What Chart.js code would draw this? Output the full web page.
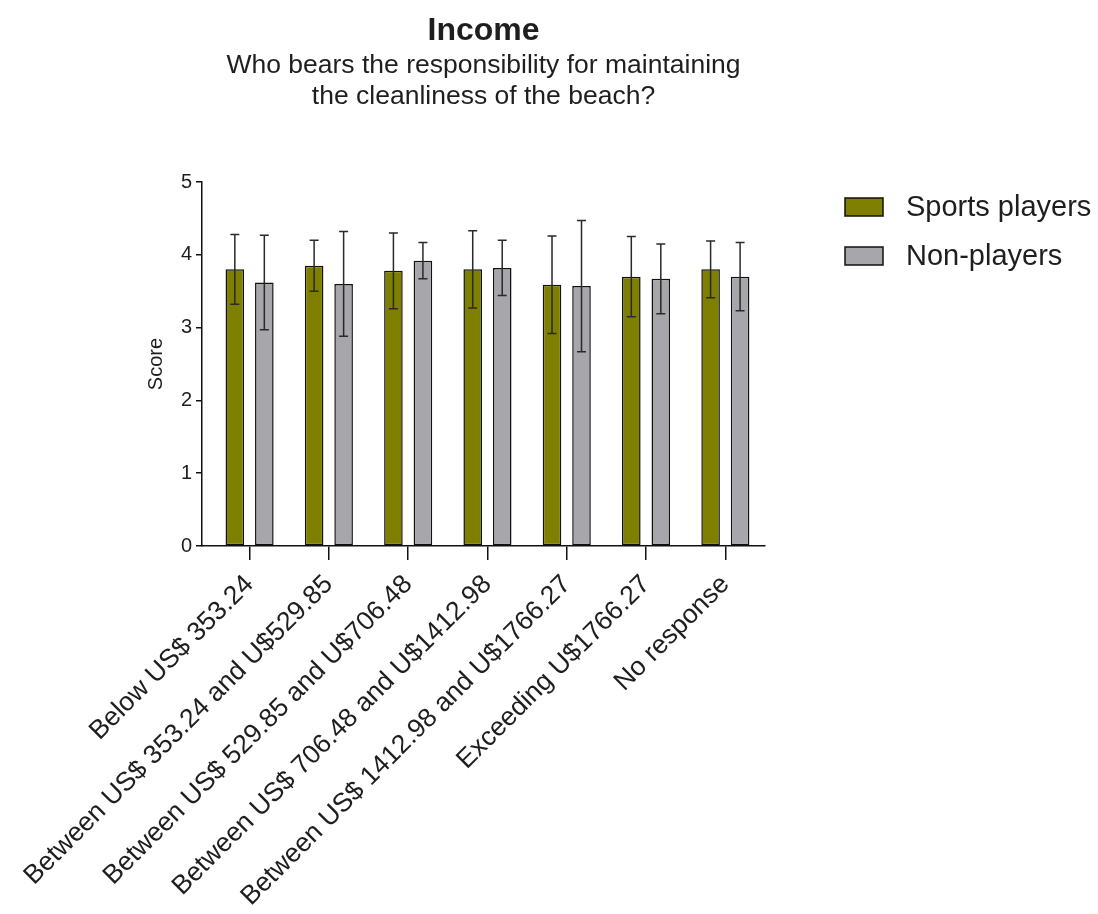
<!DOCTYPE html>
<html><head><meta charset="utf-8">
<script src="https://cdn.jsdelivr.net/npm/chart.js@4.4.1/dist/chart.umd.min.js"></script>
<style>html,body{margin:0;padding:0;background:#fff;}</style>
</head><body>
<canvas id="c" width="1098" height="914"></canvas>
<script>
const categories = [
  'Below US$ 353.24',
  'Between US$ 353.24 and U$529.85',
  'Between US$ 529.85 and U$706.48',
  'Between US$ 706.48 and U$1412.98',
  'Between US$ 1412.98 and U$1766.27',
  'Exceeding U$1766.27',
  'No response'
];
const seriesNames = ['Sports players', 'Non-players'];
const sportsMeans  = [3.80, 3.85, 3.78, 3.80, 3.59, 3.70, 3.80];
const sportsErrors = [0.48, 0.35, 0.52, 0.53, 0.67, 0.55, 0.39];
const nonMeans     = [3.62, 3.60, 3.92, 3.82, 3.57, 3.67, 3.70];
const nonErrors    = [0.65, 0.72, 0.25, 0.38, 0.90, 0.48, 0.47];
const yTickValues  = [0, 1, 2, 3, 4, 5];
const titleText = 'Income';
const subtitleLines = ['Who bears the responsibility for maintaining', 'the cleanliness of the beach?'];
const yTitle = 'Score';

const FONT = '"Liberation Sans", Arial, Helvetica, sans-serif';
const TEXT = '#1e1e1e';

const errorBars = {
  id: 'errorBars',
  afterDatasetsDraw(chart) {
    const ctx = chart.ctx, ys = chart.scales.y;
    chart.data.datasets.forEach((ds, di) => {
      const meta = chart.getDatasetMeta(di);
      meta.data.forEach((bar, i) => {
        const v = ds.data[i].y, e = ds.errors[i];
        const x = bar.x;
        const top = ys.getPixelForValue(v + e), bot = ys.getPixelForValue(v - e);
        ctx.save();
        ctx.strokeStyle = '#2a2a2a';
        ctx.lineWidth = 1.5;
        ctx.beginPath();
        ctx.moveTo(x, top); ctx.lineTo(x, bot);
        ctx.moveTo(x - 4.5, top); ctx.lineTo(x + 4.5, top);
        ctx.moveTo(x - 4.5, bot); ctx.lineTo(x + 4.5, bot);
        ctx.stroke();
        ctx.restore();
      });
    });
  }
};

const sideLegend = {
  id: 'sideLegend',
  afterDraw(chart) {
    const ctx = chart.ctx;
    const x0 = 845, y0 = 198, bw = 38, bh = 18, gap = 49;
    chart.data.datasets.forEach((ds, i) => {
      const y = y0 + i * gap;
      ctx.save();
      ctx.fillStyle = ds.backgroundColor;
      ctx.fillRect(x0, y, bw, bh);
      ctx.strokeStyle = '#111';
      ctx.lineWidth = 1.5;
      ctx.strokeRect(x0, y, bw, bh);
      ctx.fillStyle = TEXT;
      ctx.font = '29px ' + FONT;
      ctx.textBaseline = 'middle';
      ctx.textAlign = 'left';
      ctx.fillText(ds.label, 906, y + bh / 2 + 1);
      ctx.restore();
    });
  }
};

new Chart(document.getElementById('c'), {
  type: 'bar',
  data: {
    datasets: [
      { label: seriesNames[0], data: sportsMeans.map((v, i) => ({ x: i, y: v })), errors: sportsErrors,
        backgroundColor: '#7f7f00', borderColor: '#111', borderWidth: 1.5, borderSkipped: false },
      { label: seriesNames[1], data: nonMeans.map((v, i) => ({ x: i, y: v })), errors: nonErrors,
        backgroundColor: '#a6a6ab', borderColor: '#111', borderWidth: 1.5, borderSkipped: false }
    ]
  },
  options: {
    responsive: false,
    animation: false,
    devicePixelRatio: 1,
    categoryPercentage: 0.744,
    barPercentage: 0.63,
    layout: { padding: { left: 136, right: 333, top: 0, bottom: 0 } },
    plugins: {
      legend: { display: false },
      tooltip: { enabled: false },
      title: { display: true, text: titleText, fullSize: false, color: TEXT,
        font: { family: FONT, size: 32, weight: 'bold', lineHeight: 1.2 }, padding: { top: 12, bottom: 0 } },
      subtitle: { display: true, text: subtitleLines, fullSize: false, color: TEXT,
        font: { family: FONT, size: 26.5, lineHeight: 1.17 }, padding: { top: 0, bottom: 69.6 } }
    },
    scales: {
      x: {
        type: 'linear', min: -0.6, max: 6.5, offset: false,
        afterBuildTicks: s => { s.ticks = categories.map((_, i) => ({ value: i })); },
        afterFit: s => { s.height = 368; },
        ticks: { autoSkip: false, maxRotation: 45, minRotation: 45, padding: 9, color: TEXT,
          font: { family: FONT, size: 26.5 }, callback: v => categories[v] },
        grid: { display: true, offset: false, drawOnChartArea: false, drawTicks: true, tickLength: 14, color: '#111', lineWidth: 1.5 },
        border: { display: true, color: '#111', width: 1.5 }
      },
      y: {
        min: 0, max: 5,
        afterBuildTicks: s => { s.ticks = yTickValues.map(v => ({ value: v })); },
        afterFit: s => { s.width = 66; },
        ticks: { color: TEXT, padding: 4, font: { family: FONT, size: 20 } },
        grid: { display: true, drawOnChartArea: false, drawTicks: true, tickLength: 6, color: '#111', lineWidth: 1.5 },
        border: { display: true, color: '#111', width: 1.5 },
        title: { display: true, text: yTitle, color: TEXT, font: { family: FONT, size: 20 }, padding: { top: 8, bottom: 0 } }
      }
    }
  },
  plugins: [errorBars, sideLegend]
});
</script>
</body></html>
